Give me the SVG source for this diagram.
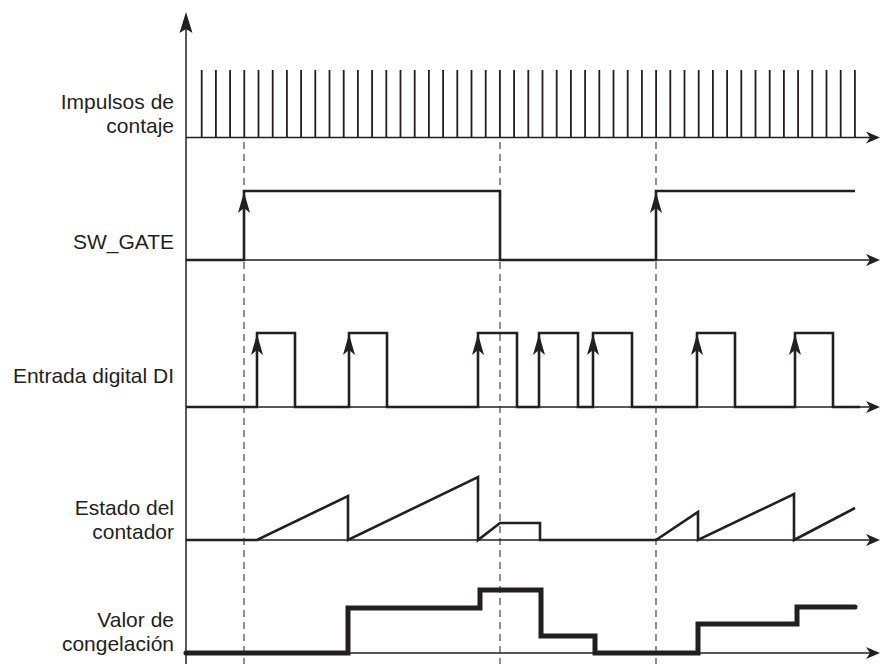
<svg xmlns="http://www.w3.org/2000/svg" xmlns:xlink="http://www.w3.org/1999/xlink" width="880" height="664" viewBox="0 0 880 664">
<style>
.lbl{font-family:"Liberation Sans",Arial,sans-serif;font-size:21px;fill:#231f20;text-anchor:end}
.axis{stroke:#231f20;stroke-width:1.5;fill:none}
.sig{stroke:#231f20;stroke-width:2.6;fill:none;stroke-linejoin:miter}
.frz{stroke:#231f20;stroke-width:5;fill:none;stroke-linejoin:miter;stroke-linecap:round}
.dash{stroke:#555;stroke-width:1.3;stroke-dasharray:7,5;fill:none}
.pulse{stroke:#231f20;stroke-width:1.8}
.ah{fill:#231f20}
</style>
<defs>
<path id="up" d="M0,0 L6,21 L0,16 L-6,21 Z"/>
<path id="top" d="M0,0 L6.5,21 L0,17 L-6.5,21 Z"/>
<path id="right" d="M0,0 L-14,-6 L-10,0 L-14,6 Z"/>
</defs>
<rect width="880" height="664" fill="#fff"/>
<g id="labels">
<text class="lbl" x="174" y="109">Impulsos de</text>
<text class="lbl" x="174" y="133">contaje</text>
<text class="lbl" x="174" y="249">SW_GATE</text>
<text class="lbl" x="174" y="383">Entrada digital DI</text>
<text class="lbl" x="174" y="515">Estado del</text>
<text class="lbl" x="174" y="539">contador</text>
<text class="lbl" x="174" y="627">Valor de</text>
<text class="lbl" x="174" y="651">congelación</text>
</g>
<g id="dashed">
<line class="dash" x1="244" y1="142" x2="244" y2="664"/>
<line class="dash" x1="500" y1="142" x2="500" y2="664"/>
<line class="dash" x1="656" y1="142" x2="656" y2="664"/>
</g>
<g id="axes">
<line class="axis" x1="186" y1="664" x2="186" y2="28"/>
<use href="#top" class="ah" x="186" y="12"/>
<line class="axis" x1="186" y1="137.5" x2="870" y2="137.5"/>
<use href="#right" class="ah" x="880" y="137.5"/>
<line class="axis" x1="186" y1="260" x2="870" y2="260"/>
<use href="#right" class="ah" x="880" y="260"/>
<line class="axis" x1="186" y1="407" x2="870" y2="407"/>
<use href="#right" class="ah" x="880" y="407"/>
<line class="axis" x1="186" y1="540" x2="870" y2="540"/>
<use href="#right" class="ah" x="880" y="540"/>
<line class="axis" x1="186" y1="653" x2="870" y2="653"/>
<use href="#right" class="ah" x="880" y="653"/>
</g>
<g id="pulses">
<path class="pulse" d="M201.7,70V137M215.9,70V137M230.1,70V137M244.3,70V137M258.5,70V137M272.7,70V137M286.9,70V137M301.1,70V137M315.3,70V137M329.5,70V137M343.7,70V137M357.9,70V137M372.1,70V137M386.3,70V137M400.5,70V137M414.7,70V137M428.9,70V137M443.1,70V137M457.3,70V137M471.5,70V137M485.7,70V137M499.9,70V137M514.1,70V137M528.3,70V137M542.5,70V137M556.7,70V137M570.9,70V137M585.1,70V137M599.3,70V137M613.5,70V137M627.7,70V137M641.9,70V137M656.1,70V137M670.3,70V137M684.5,70V137M698.7,70V137M712.9,70V137M727.1,70V137M741.3,70V137M755.5,70V137M769.7,70V137M783.9,70V137M798.1,70V137M812.3,70V137M826.5,70V137M840.7,70V137M854.9,70V137"/>
</g>
<g id="sw_gate">
<path class="sig" d="M186,260 L244,260 L244,191 L500,191 L500,260 L656,260 L656,191 L855,191"/>
<use href="#up" class="ah" x="244" y="192"/>
<use href="#up" class="ah" x="656" y="192"/>
</g>
<g id="di">
<path class="sig" d="M186,407 L257,407 L257,333 L295,333 L295,407 L349,407 L349,333 L387,333 L387,407 L478,407 L478,333 L517,333 L517,407 L539,407 L539,333 L578,333 L578,407 L593,407 L593,333 L632,333 L632,407 L697,407 L697,333 L735,333 L735,407 L795,407 L795,333 L833,333 L833,407 L860,407"/>
<use href="#up" class="ah" x="257" y="334"/>
<use href="#up" class="ah" x="349" y="334"/>
<use href="#up" class="ah" x="478" y="334"/>
<use href="#up" class="ah" x="539" y="334"/>
<use href="#up" class="ah" x="593" y="334"/>
<use href="#up" class="ah" x="697" y="334"/>
<use href="#up" class="ah" x="795" y="334"/>
</g>
<g id="counter">
<path class="sig" d="M186,540 L257,540 L348,496 L348,540 L478,477 L478,540 L500,523 L540,523 L540,540 L656,540 L698,512 L698,540 L794,494 L794,540 L855,508"/>
</g>
<g id="freeze">
<path class="frz" d="M186,653 L348,653 L348,608 L480,608 L480,590 L541,590 L541,636 L595,636 L595,653 L698,653 L698,624 L797,624 L797,607 L855,607"/>
</g>
</svg>
